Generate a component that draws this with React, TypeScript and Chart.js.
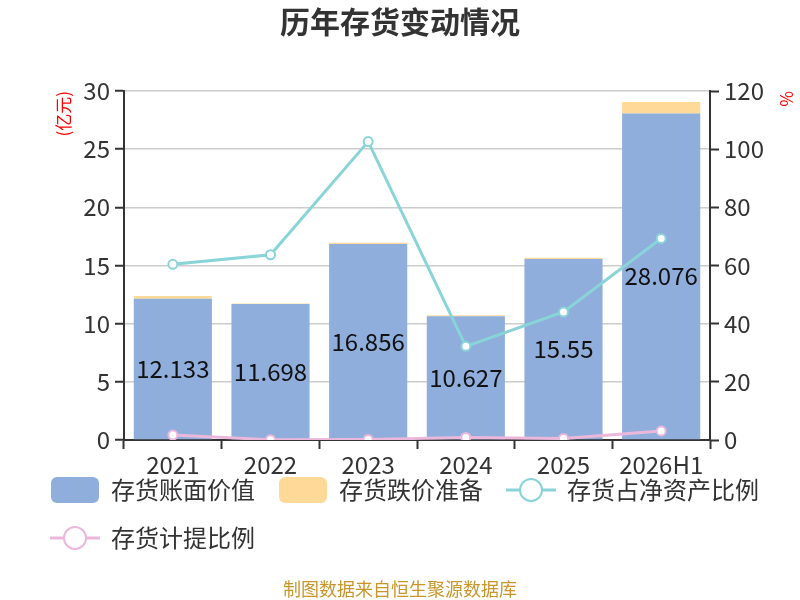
import React, { useEffect, useRef } from 'react';
import { Chart, registerables } from 'chart.js';

Chart.register(...registerables);

const categories = ['2021', '2022', '2023', '2024', '2025', '2026H1'];
const bookValue = [12.133, 11.698, 16.856, 10.627, 15.55, 28.076];
const impairmentReserve = [0.25, 0.03, 0.1, 0.1, 0.12, 0.98];
const inventoryToNetAssets = [60.4, 63.7, 102.6, 32.2, 44.0, 69.3];
const provisionRatio = [1.7, 0.1, 0.2, 0.9, 0.5, 3.1];
const leftTicks = [0, 5, 10, 15, 20, 25, 30];
const rightTicks = [0, 20, 40, 60, 80, 100, 120];

const seriesNames = ['存货账面价值', '存货跌价准备', '存货占净资产比例', '存货计提比例'];
const titleText = '历年存货变动情况';
const footerText = '制图数据来自恒生聚源数据库';
const leftUnit = '(亿元)';
const rightUnit = '%';

const BLUE = '#8FAEDB';
const ORANGE = '#FFD997';
const TEAL = '#88D4D8';
const PINK = '#EBB8DC';
const FONT = '"Noto Sans CJK SC", "Noto Sans", sans-serif';

function boxIcon(color: string) {
  const c = document.createElement('canvas');
  c.width = 48;
  c.height = 26;
  const ctx = c.getContext('2d')!;
  ctx.fillStyle = color;
  ctx.beginPath();
  (ctx as any).roundRect(0, 0, 48, 26, 6);
  ctx.fill();
  return c;
}

function lineIcon(color: string) {
  const c = document.createElement('canvas');
  c.width = 50;
  c.height = 26;
  const ctx = c.getContext('2d')!;
  ctx.strokeStyle = color;
  ctx.lineWidth = 3;
  ctx.beginPath();
  ctx.moveTo(0, 13);
  ctx.lineTo(50, 13);
  ctx.stroke();
  ctx.beginPath();
  ctx.arc(25, 13, 11, 0, Math.PI * 2);
  ctx.fillStyle = '#ffffff';
  ctx.fill();
  ctx.lineWidth = 2;
  ctx.stroke();
  return c;
}

const barLabelPlugin = {
  id: 'barLabels',
  afterDatasetsDraw(chart: any) {
    const meta = chart.getDatasetMeta(0);
    const ctx = chart.ctx;
    ctx.save();
    ctx.font = `24px ${FONT}`;
    ctx.fillStyle = '#111111';
    ctx.textAlign = 'center';
    ctx.textBaseline = 'middle';
    meta.data.forEach((bar: any, i: number) => {
      const y = (bar.y + bar.base) / 2;
      ctx.fillText(String(bookValue[i]), bar.x, y);
    });
    ctx.restore();
  },
};

const headerFooterPlugin = {
  id: 'headerFooter',
  afterDraw(chart: any) {
    const ctx = chart.ctx;
    const cx = chart.width / 2;
    ctx.save();
    ctx.textAlign = 'center';
    ctx.textBaseline = 'middle';
    ctx.fillStyle = '#333333';
    ctx.font = `bold 30px ${FONT}`;
    ctx.fillText(titleText, cx, 22);
    ctx.fillStyle = '#C8962A';
    ctx.font = `18px ${FONT}`;
    ctx.fillText(footerText, cx, 589);
    ctx.restore();
  },
};

export default function App() {
  const ref = useRef<HTMLCanvasElement>(null);

  useEffect(() => {
    document.body.style.margin = '0';
    const icons = [boxIcon(BLUE), boxIcon(ORANGE), lineIcon(TEAL), lineIcon(PINK)];
    const chart = new Chart(ref.current!, {
      type: 'bar',
      data: {
        labels: categories,
        datasets: [
          {
            type: 'bar',
            label: seriesNames[0],
            data: bookValue,
            backgroundColor: BLUE,
            yAxisID: 'y',
            stack: 's',
            order: 1,
            categoryPercentage: 1,
            barPercentage: 0.8,
          },
          {
            type: 'bar',
            label: seriesNames[1],
            data: impairmentReserve,
            backgroundColor: ORANGE,
            yAxisID: 'y',
            stack: 's',
            order: 1,
            categoryPercentage: 1,
            barPercentage: 0.8,
          },
          {
            type: 'line',
            label: seriesNames[2],
            data: inventoryToNetAssets,
            borderColor: TEAL,
            borderWidth: 3,
            pointRadius: 4.5,
            pointBorderWidth: 2,
            pointBackgroundColor: '#ffffff',
            pointBorderColor: TEAL,
            yAxisID: 'y1',
            order: 0,
          },
          {
            type: 'line',
            label: seriesNames[3],
            data: provisionRatio,
            borderColor: PINK,
            borderWidth: 3,
            pointRadius: 4.5,
            pointBorderWidth: 2,
            pointBackgroundColor: '#ffffff',
            pointBorderColor: PINK,
            yAxisID: 'y1',
            order: 0,
          },
        ],
      },
      options: {
        animation: false,
        responsive: false,
        layout: { padding: { left: 27, right: 3, top: 91, bottom: 40 } },
        plugins: {
          tooltip: { enabled: false },
          title: { display: false },
          legend: {
            display: true,
            position: 'bottom',
            align: 'start',
            labels: {
              usePointStyle: true,
              pointStyleWidth: 48,
              padding: 24,
              color: '#333333',
              font: { family: FONT, size: 24 },
              generateLabels: () =>
                seriesNames.map((name, i) => ({
                  text: name,
                  pointStyle: icons[i],
                  fillStyle: 'transparent',
                  strokeStyle: 'transparent',
                  lineWidth: 0,
                  hidden: false,
                  datasetIndex: i,
                  fontColor: '#333333',
                })),
            },
          },
        },
        scales: {
          x: {
            stacked: true,
            offset: true,
            grid: {
              display: true,
              drawOnChartArea: false,
              drawTicks: true,
              tickLength: 9,
              tickColor: '#333333',
              tickWidth: 2,
              offset: true,
            },
            border: { display: true, color: '#333333', width: 2 },
            ticks: {
              color: '#333333',
              font: { family: FONT, size: 24 },
              padding: 1,
              maxRotation: 0,
              autoSkip: false,
            },
            afterFit: (scale: any) => {
              scale.height = 14;
              scale._computeLabelArea = () => undefined;
            },
          },
          y: {
            type: 'linear',
            position: 'left',
            stacked: true,
            min: 0,
            max: 30,
            afterBuildTicks: (scale: any) => {
              scale.ticks = leftTicks.map((v) => ({ value: v }));
            },
            grid: {
              color: '#cccccc',
              lineWidth: 1.5,
              tickColor: '#333333',
              tickLength: 9,
              tickWidth: 2,
            },
            border: { display: true, color: '#333333', width: 2 },
            ticks: {
              color: '#333333',
              font: { family: FONT, size: 24 },
              padding: 5,
            },
            title: {
              display: true,
              text: leftUnit,
              align: 'end',
              color: '#ff0000',
              font: { family: FONT, size: 17 },
              padding: { top: 26, bottom: 0 },
            },
            afterFit: (scale: any) => {
              scale.width = 97;
            },
          },
          y1: {
            type: 'linear',
            position: 'right',
            min: 0,
            max: 120,
            afterBuildTicks: (scale: any) => {
              scale.ticks = rightTicks.map((v) => ({ value: v }));
            },
            grid: {
              drawOnChartArea: false,
              tickColor: '#333333',
              tickLength: 9,
              tickWidth: 2,
            },
            border: { display: true, color: '#333333', width: 2 },
            ticks: {
              color: '#333333',
              font: { family: FONT, size: 24 },
              padding: 5,
            },
            title: {
              display: true,
              text: rightUnit,
              align: 'end',
              color: '#ff0000',
              font: { family: FONT, size: 17 },
              padding: { top: 0, bottom: 0 },
            },
            afterFit: (scale: any) => {
              scale.width = 87;
            },
          },
        },
      } as any,
      plugins: [barLabelPlugin, headerFooterPlugin],
    });
    return () => chart.destroy();
  }, []);

  return (
    <div style={{ position: 'absolute', left: 0, top: 0, width: 800, height: 600, background: '#ffffff' }}>
      <canvas ref={ref} width={800} height={600} style={{ width: 800, height: 600, display: 'block' }} />
    </div>
  );
}
